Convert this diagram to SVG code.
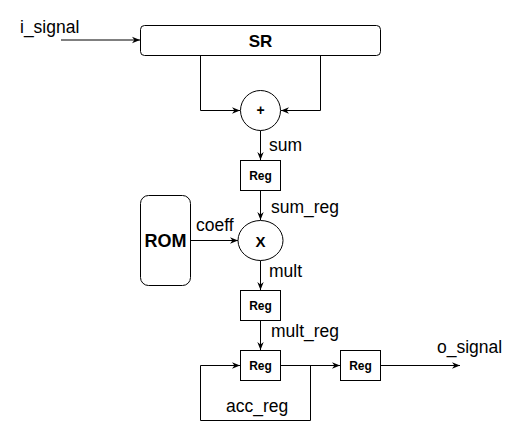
<svg xmlns="http://www.w3.org/2000/svg" width="521" height="439" viewBox="0 0 521 439">
<style>
.box{fill:#fff;stroke:#000;stroke-width:1}
.ln{fill:none;stroke:#000;stroke-width:1}
.lbl{font-family:"Liberation Sans",Arial,sans-serif;font-size:17.5px;fill:#000}
.b{font-family:"Liberation Sans",Arial,sans-serif;font-weight:bold;fill:#000;text-anchor:middle}
</style>
<defs>
<marker id="arr" viewBox="0 0 10 10" refX="10" refY="5" markerWidth="8" markerHeight="8" markerUnits="userSpaceOnUse" orient="auto">
<path d="M0,1 L10,5 L0,9 L3,5 Z" fill="#000"/>
</marker>
</defs>
<g id="connectors">
<path class="ln" d="M61,40 H140" marker-end="url(#arr)"/>
<path class="ln" d="M200.5,55.5 V110.5 H240" marker-end="url(#arr)"/>
<path class="ln" d="M320.5,55.5 V110.5 H281" marker-end="url(#arr)"/>
<path class="ln" d="M260.5,130.5 V160" marker-end="url(#arr)"/>
<path class="ln" d="M260.5,190.5 V220" marker-end="url(#arr)"/>
<path class="ln" d="M190.5,240.5 H238" marker-end="url(#arr)"/>
<path class="ln" d="M260.5,260.5 V290" marker-end="url(#arr)"/>
<path class="ln" d="M260.5,320.5 V350" marker-end="url(#arr)"/>
<path class="ln" d="M280.5,365.5 H340" marker-end="url(#arr)"/>
<path class="ln" d="M310.5,365.5 V420.5 H200.5 V365.5 H240" marker-end="url(#arr)"/>
<path class="ln" d="M380.5,365.5 H460" marker-end="url(#arr)"/>
</g>
<g id="SR">
<rect class="box" x="140.5" y="25.5" width="240" height="30" rx="4"/>
<text class="b" x="260.5" y="47" font-size="17">SR</text>
</g>
<g id="adder">
<circle class="box" cx="260.5" cy="110.5" r="20"/>
<text class="b" x="260.5" y="115" font-size="14">+</text>
</g>
<g id="reg_sum">
<rect class="box" x="240.5" y="160.5" width="40" height="30"/>
<text class="b" x="260.5" y="180" font-size="12">Reg</text>
</g>
<g id="ROM">
<rect class="box" x="140.5" y="195.5" width="50" height="90" rx="8"/>
<text class="b" x="165.5" y="247" font-size="18">ROM</text>
</g>
<g id="mult_node">
<ellipse class="box" cx="260.5" cy="240.5" rx="22.5" ry="20"/>
<text class="b" x="260.5" y="247" font-size="15">X</text>
</g>
<g id="reg_mult">
<rect class="box" x="240.5" y="290.5" width="40" height="30"/>
<text class="b" x="260.5" y="310" font-size="12">Reg</text>
</g>
<g id="reg_acc">
<rect class="box" x="240.5" y="350.5" width="40" height="30"/>
<text class="b" x="260.5" y="370" font-size="12">Reg</text>
</g>
<g id="reg_out">
<rect class="box" x="340.5" y="350.5" width="40" height="30"/>
<text class="b" x="360.5" y="370" font-size="12">Reg</text>
</g>
<g id="labels">
<text class="lbl" x="20" y="32.5">i_signal</text>
<text class="lbl" x="269" y="151">sum</text>
<text class="lbl" x="271" y="212.5">sum_reg</text>
<text class="lbl" x="196" y="230.5">coeff</text>
<text class="lbl" x="269" y="277">mult</text>
<text class="lbl" x="271" y="337">mult_reg</text>
<text class="lbl" x="437" y="352.5">o_signal</text>
<text class="lbl" x="226" y="412">acc_reg</text>
</g>
</svg>
